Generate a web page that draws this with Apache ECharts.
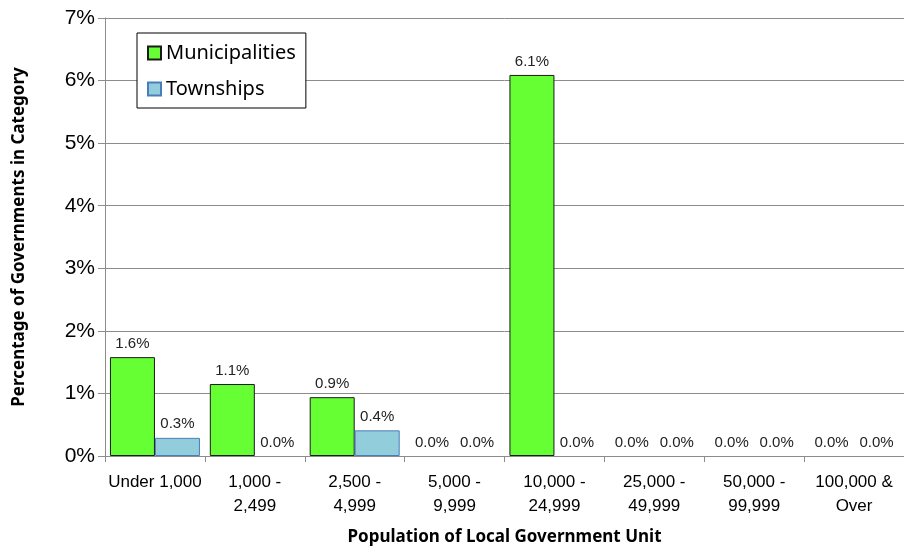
<!DOCTYPE html>
<html>
<head>
<meta charset="utf-8">
<script src="https://cdn.jsdelivr.net/npm/echarts@6/dist/echarts.min.js"></script>
<style>
  html, body { margin: 0; padding: 0; background: #fff; }
  #chart { width: 904px; height: 549px; }
</style>
</head>
<body>
<div id="chart"></div>
<script>
// 数据
const categories = ['Under 1,000', '1,000 -\n2,499', '2,500 -\n4,999', '5,000 -\n9,999',
    '10,000 -\n24,999', '25,000 -\n49,999', '50,000 -\n99,999', '100,000 &\nOver'];
const municipalities = [1.58, 1.15, 0.94, 0, 6.09, 0, 0, 0];
const townships = [0.29, 0, 0.41, 0, 0, 0, 0, 0];
const yTicks = [0, 1, 2, 3, 4, 5, 6, 7];

const chart = echarts.init(document.getElementById('chart'));

const sansFont = '"Liberation Sans", Arial, sans-serif';
const labelStyle = {
    show: true,
    position: 'top',
    distance: 6,
    fontFamily: sansFont,
    fontSize: 15,
    color: '#222',
    formatter: p => p.value.toFixed(1) + '%'
};

// 零值柱子不画边框
const toItems = arr => arr.map(v => v === 0 ? { value: v, itemStyle: { borderWidth: 0 } } : v);

chart.setOption({
    animation: false,
    grid: { left: 105, right: 0, top: 18, bottom: 93, outerBoundsMode: 'none' },
    legend: {
        orient: 'vertical',
        left: 137,
        top: 33,
        padding: [10, 10, 9, 10],
        itemGap: 16,
        itemWidth: 13,
        itemHeight: 13,
        borderColor: '#000',
        borderWidth: 1,
        backgroundColor: '#fff',
        textStyle: { fontFamily: '"Noto Sans", sans-serif', fontSize: 20, color: '#000' },
        data: [
            { name: 'Municipalities', icon: 'rect' },
            { name: 'Townships', icon: 'rect' }
        ]
    },
    xAxis: {
        type: 'category',
        data: categories,
        name: 'Population of Local Government Unit',
        nameLocation: 'middle',
        nameGap: 73,
        nameTextStyle: { fontFamily: '"Noto Sans", sans-serif', fontWeight: 'bold', fontSize: 17, color: '#000' },
        axisLine: { lineStyle: { color: '#8c8c8c' } },
        axisTick: { show: true, length: 6, lineStyle: { color: '#8c8c8c' } },
        axisLabel: { fontFamily: sansFont, fontSize: 17, color: '#000', margin: 14, lineHeight: 24, interval: 0 }
    },
    yAxis: {
        type: 'value',
        min: 0,
        max: 7,
        interval: 1,
        name: 'Percentage of Governments in Category',
        nameLocation: 'middle',
        nameGap: 77,
        nameTextStyle: { fontFamily: '"Noto Sans", sans-serif', fontWeight: 'bold', fontSize: 17, color: '#000' },
        axisLine: { show: true, lineStyle: { color: '#8c8c8c' } },
        axisTick: { show: true, length: 7, lineStyle: { color: '#8c8c8c' } },
        splitLine: { lineStyle: { color: '#8c8c8c' } },
        axisLabel: {
            fontFamily: sansFont,
            fontSize: 21,
            color: '#000',
            margin: 10,
            formatter: v => yTicks.includes(v) ? v + '%' : ''
        }
    },
    series: [
        {
            name: 'Municipalities',
            type: 'bar',
            data: toItems(municipalities),
            barWidth: 45,
            barGap: '0%',
            itemStyle: { color: '#66ff33', borderColor: '#1a1a1a', borderWidth: 1 },
            label: labelStyle
        },
        {
            name: 'Townships',
            type: 'bar',
            data: toItems(townships),
            barWidth: 45,
            barGap: '0%',
            itemStyle: { color: '#92cddc', borderColor: '#4a7ebb', borderWidth: 1 },
            label: labelStyle
        }
    ]
});

window.addEventListener('resize', () => chart.resize());
</script>
</body>
</html>
